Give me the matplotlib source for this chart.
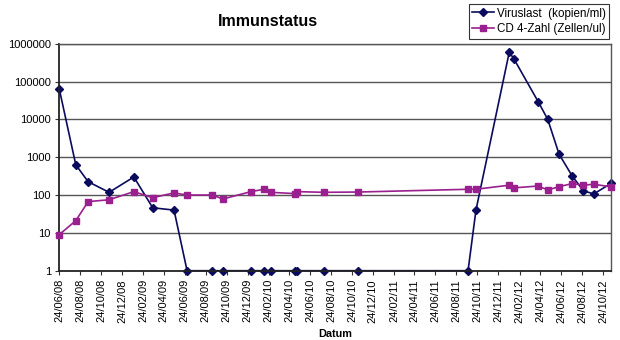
import matplotlib
matplotlib.use("Agg")
import matplotlib.pyplot as plt
import matplotlib.dates as mdates
from matplotlib.ticker import FixedLocator, FixedFormatter, NullLocator
import pandas as pd

plt.rcParams['font.family'] = ['Liberation Sans', 'DejaVu Sans']

dates = ["2008-06-24", "2008-08-11", "2008-09-16", "2008-11-16", "2009-01-27",
         "2009-03-23", "2009-05-24", "2009-07-01", "2009-09-11", "2009-10-14",
         "2010-01-03", "2010-02-10", "2010-03-01", "2010-05-12", "2010-05-16",
         "2010-08-03", "2010-11-11", "2011-09-27", "2011-10-20", "2012-01-25",
         "2012-02-08", "2012-04-18", "2012-05-16", "2012-06-18", "2012-07-26",
         "2012-08-28", "2012-09-27", "2012-11-17"]
viruslast = [63000, 630, 225, 118, 300, 46, 40, 1, 1, 1,
             1, 1, 1, 1, 1, 1, 1, 1, 40, 600000,
             390000, 29500, 10000, 1200, 320, 129, 107, 205]
cd4 = [9, 21, 67, 75, 123, 85, 114, 100, 100, 79,
       123, 142, 118, 109, 123, 118, 120, 142, 142, 182,
       155, 173, 136, 167, 200, 182, 193, 164]
y_ticks = [1, 10, 100, 1000, 10000, 100000, 1000000]
y_labels = ["1", "10", "100", "1000", "10000", "100000", "1000000"]
x_start, x_end = "2008-06-24", "2012-11-17"

d = pd.to_datetime(dates)

fig = plt.figure(figsize=(6.2, 3.4), dpi=100)
ax = fig.add_axes([59.3/620, 1-270.7/340, (611.3-59.3)/620, (270.7-43.7)/340])

navy = '#0b0b5e'
mag = '#9a1f8f'
ax.plot(d, viruslast, color=navy, lw=1.2, marker='D', ms=4.2, clip_on=False, zorder=2,
        label='Viruslast  (kopien/ml)')
ax.plot(d, cd4, color=mag, lw=1.2, marker='s', ms=5, clip_on=False, zorder=3,
        label='CD 4-Zahl (Zellen/ul)')

ax.set_yscale('log')
ax.set_ylim(1, 1e6)
ax.yaxis.set_major_locator(FixedLocator(y_ticks))
ax.yaxis.set_major_formatter(FixedFormatter(y_labels))
ax.yaxis.set_minor_locator(NullLocator())
ax.grid(axis='y', color='#555555', lw=1.0)
ax.set_axisbelow(True)

ax.set_xlim(pd.Timestamp(x_start), pd.Timestamp(x_end))
ax.xaxis.set_major_locator(mdates.MonthLocator(bymonth=[2, 4, 6, 8, 10, 12], bymonthday=24))
ax.xaxis.set_major_formatter(mdates.DateFormatter('%d/%m/%y'))
ax.xaxis.set_minor_locator(NullLocator())

for lab in ax.get_xticklabels():
    lab.set_rotation(90)
ax.tick_params(axis='x', labelsize=8, length=3, width=0.8, color='#333333', pad=3, direction='out')
ax.tick_params(axis='y', labelsize=8, length=3, width=0.8, color='#333333', pad=3, direction='out')
for lab in ax.get_xticklabels():
    lab.set_verticalalignment('top')

for s in ['left', 'bottom']:
    ax.spines[s].set_color('#222222')
    ax.spines[s].set_linewidth(1.3)
for s in ['top', 'right']:
    ax.spines[s].set_color('#555555')
    ax.spines[s].set_linewidth(1.0)
ax.spines['bottom'].set_zorder(4)

fig.text(268/620, 1-22/340, 'Immunstatus', ha='center', va='center',
         fontsize=11.5, fontweight='bold')
fig.text(335.3/620, 1-334/340, 'Datum', ha='center', va='center',
         fontsize=7.8, fontweight='bold')

leg = fig.legend(loc='upper right', bbox_to_anchor=(609/620, 1-4/340), fontsize=8.4,
                 frameon=True, fancybox=False, handlelength=1.9, handletextpad=0.2,
                 borderpad=0.3, labelspacing=0.3, borderaxespad=0)
leg.get_frame().set_edgecolor('black')
leg.get_frame().set_linewidth(0.8)

fig.savefig('out.png', dpi=100)
